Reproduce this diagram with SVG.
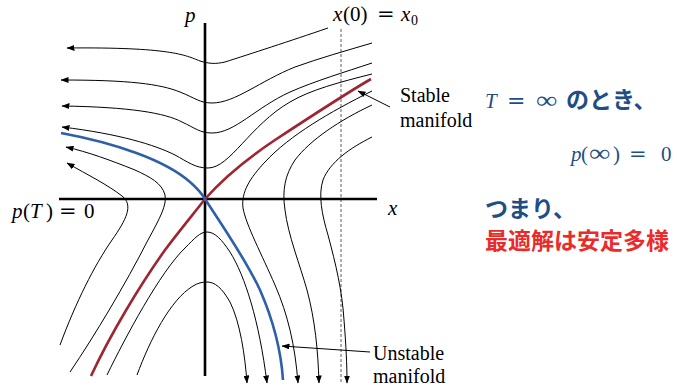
<svg xmlns="http://www.w3.org/2000/svg" width="677" height="387" viewBox="0 0 677 387">
<style>
.ax{stroke:#000;stroke-width:2.6;fill:none}
.tr{stroke:#000;stroke-width:1;fill:none}
.ar{marker-end:url(#ah)}
.red{stroke:#9e2531;stroke-width:2.6;fill:none}
.blue{stroke:#2e5fa8;stroke-width:2.6;fill:none}
.dash{stroke:#777;stroke-width:1.2;stroke-dasharray:3,2;fill:none}
.m{font-family:"Liberation Serif","DejaVu Serif",serif;font-size:21px;fill:#000}
.i{font-style:italic}
.op{font-family:"DejaVu Serif","Liberation Serif",serif}
.inf{font-family:"Liberation Serif","DejaVu Serif",serif;font-size:24px}
.lbl{font-family:"Liberation Serif","Times New Roman",serif;font-size:20px;fill:#000}
.jb{font-family:"Noto Sans CJK JP","Noto Sans",sans-serif;font-weight:700;font-size:23px}
.bl{fill:#1f4e85}
.rd{fill:#ec2a2a}
</style>
<defs>
<marker id="ah" viewBox="0 0 8 6" refX="7.5" refY="3" markerWidth="8" markerHeight="6" markerUnits="userSpaceOnUse" orient="auto">
<path d="M0,0 L8,3 L0,6 z" fill="#000"/>
</marker>
</defs>
<rect width="677" height="387" fill="#fff"/>

<g id="dashed-x0">
<line class="dash" x1="341" y1="29" x2="341" y2="383"/>
</g>

<g id="trajectories">
<path class="tr ar" d="M328,28 C290,41 250,54 225,62 C216,64 210,64 200,61 C185,55 170,47 67,48"/>
<path class="tr ar" d="M372,43 C345,51 320,58 295,67 C260,81 235,103 212,103 C200,103 195,98 180,92 C160,84 130,80 61,80"/>
<path class="tr ar" d="M372,63 C345,72 315,81 290,92 C255,108 235,133 212,133 C200,133 195,128 182,122 C165,113 130,107 62,106"/>
<path class="tr ar" d="M372,74 C340,82 310,90 290,102 C250,125 230,168 208,168 C195,168 188,162 175,155 C155,145 120,134 62,127"/>
<path class="tr ar" d="M60,345 C76,302 94,266 112,240 C126,220 134,205 122,196 C108,185 88,175 67,163"/>
<path class="tr ar" d="M70,372 C95,335 125,285 148,240 C160,218 167,205 165,195 C162,183 150,177 135,170 C110,160 88,152 66,147"/>
<path class="tr ar" d="M107,375 C125,338 160,272 185,248 C195,238 200,232 207,232 C215,232 222,240 230,252 C245,276 259,320 267,383"/>
<path class="tr ar" d="M137,375 C150,340 170,300 193,286 C198,283 202,282 207,282 C215,282 222,288 230,302 C240,322 245,355 247,383"/>
<path class="tr ar" d="M372,91 C330,112 290,135 265,162 C250,178 241,192 243,208 C246,225 262,255 275,285 C288,315 295,345 298,383"/>
<path class="tr ar" d="M372,105 C340,120 310,140 295,160 C285,175 282,190 285,210 C288,235 300,265 307,290 C315,320 318,350 319,383"/>
<path class="tr ar" d="M372,137 C350,148 330,162 323,180 C318,195 322,215 328,235 C336,265 342,290 344,320 C346,345 347,365 347,383"/>
</g>

<g id="axes">
<line class="ax" x1="205" y1="23" x2="205" y2="376"/>
<line class="ax" x1="59" y1="199" x2="377" y2="199"/>
</g>

<g id="stable-manifold">
<path class="red" d="M91,376 C110,335 140,285 165,250 C180,230 195,212 205,199 C220,182 245,160 275,140 C310,117 345,94 371,79"/>
</g>
<g id="unstable-manifold">
<path class="blue" d="M61,133 C115,143 165,160 190,182 C198,189 202,194 205,199 C220,222 245,258 260,290 C274,322 281,350 283,380"/>
</g>

<g id="connectors">
<line class="tr ar" x1="390" y1="107" x2="358" y2="91"/>
<line class="tr ar" x1="370" y1="352" x2="282" y2="346"/>
</g>

<g id="axis-labels">
<text class="m i" x="185" y="22">p</text>
<text class="m i" x="388" y="215">x</text>
<text class="m" y="21"><tspan class="i" x="333">x</tspan><tspan x="343">(0)</tspan><tspan class="op" x="377">=</tspan><tspan class="i" x="401">x</tspan><tspan x="411" dy="4" font-size="14">0</tspan></text>
<text class="m" y="218"><tspan class="i" x="12">p</tspan><tspan x="23">(</tspan><tspan class="i" x="30">T</tspan><tspan x="46">)</tspan><tspan class="op" x="59">=</tspan><tspan x="84">0</tspan></text>
</g>

<g id="label-stable">
<text class="lbl" x="400" y="102">Stable</text>
<text class="lbl" x="400" y="127">manifold</text>
</g>
<g id="label-unstable">
<text class="lbl" x="373" y="360">Unstable</text>
<text class="lbl" x="373" y="383">manifold</text>
</g>

<g id="note">
<text class="m i bl" x="485" y="108" font-size="23">T</text>
<text class="op bl" x="507" y="108" font-size="22">=</text>
<text class="inf bl" transform="translate(536,108) scale(1.25,1)">∞</text>
<text class="jb bl" x="566" y="108">のとき、</text>
<text class="m bl" y="161" font-size="23"><tspan class="i" x="571">p</tspan><tspan x="581">(</tspan><tspan x="613">)</tspan><tspan class="op" x="629">=</tspan><tspan x="661">0</tspan></text>
<text class="inf bl" transform="translate(589,161) scale(1.25,1)">∞</text>
<text class="jb bl" x="485" y="217">つまり、</text>
<text class="jb rd" x="485" y="249" font-size="24">最適解は安定多様</text>
</g>
</svg>
